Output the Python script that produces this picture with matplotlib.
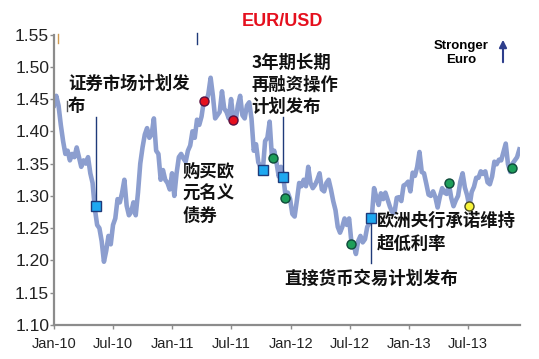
import matplotlib
matplotlib.use("Agg")
import matplotlib.pyplot as plt
import matplotlib.dates as mdates
import pandas as pd

plt.rcParams['font.family'] = ['Liberation Sans', 'DejaVu Sans']
CJK = ['Noto Sans CJK SC', 'DejaVu Sans']

# Weekly EUR/USD (Fridays)
eur_2010 = [1.440, 1.455, 1.440, 1.410, 1.385, 1.365, 1.370, 1.355, 1.365, 1.360, 1.375, 1.360, 1.345,
            1.355, 1.350, 1.360, 1.335, 1.320, 1.280, 1.255, 1.250, 1.230, 1.198, 1.215, 1.238, 1.225,
            1.255, 1.265, 1.295, 1.290, 1.305, 1.325, 1.285, 1.270, 1.275, 1.290, 1.270, 1.305, 1.350,
            1.375, 1.395, 1.405, 1.390, 1.395, 1.420, 1.370, 1.365, 1.325, 1.340, 1.325, 1.320, 1.310,
            1.335]
eur_2011 = [1.300, 1.335, 1.360, 1.365, 1.358, 1.353, 1.370, 1.378, 1.400, 1.390, 1.418, 1.410,
            1.423, 1.447, 1.445, 1.458, 1.483, 1.455, 1.420, 1.425, 1.430, 1.462, 1.435, 1.430, 1.420,
            1.450, 1.420, 1.415, 1.440, 1.455, 1.425, 1.420, 1.440, 1.445, 1.420, 1.370, 1.380, 1.352,
            1.345, 1.340, 1.385, 1.390, 1.415, 1.360, 1.370, 1.352, 1.330, 1.345, 1.330, 1.300, 1.305,
            1.295]
eur_2012 = [1.272, 1.268, 1.293, 1.320, 1.315, 1.325, 1.315, 1.345, 1.320, 1.312, 1.317, 1.325,
            1.335, 1.310, 1.307, 1.320, 1.325, 1.310, 1.292, 1.278, 1.252, 1.243, 1.252, 1.265, 1.255,
            1.265, 1.229, 1.225, 1.210, 1.230, 1.238, 1.228, 1.233, 1.252, 1.258, 1.268, 1.312, 1.298,
            1.286, 1.304, 1.295, 1.305, 1.294, 1.283, 1.275, 1.274, 1.297, 1.298, 1.292, 1.316, 1.318,
            1.322]
eur_2013 = [1.307, 1.336, 1.331, 1.345, 1.368, 1.337, 1.335, 1.319, 1.302, 1.300, 1.307, 1.298,
            1.282, 1.299, 1.312, 1.305, 1.303, 1.318, 1.297, 1.284, 1.293, 1.300, 1.322, 1.335, 1.313,
            1.301, 1.283, 1.306, 1.314, 1.328, 1.328, 1.338, 1.334, 1.338, 1.321, 1.318, 1.330, 1.353,
            1.349, 1.356, 1.355, 1.368, 1.381, 1.349, 1.337, 1.350, 1.355, 1.360, 1.372]

dates = pd.date_range('2010-01-01', '2013-12-06', freq='W-FRI')
eurusd = eur_2010 + eur_2011 + eur_2012 + eur_2013

# ECB events
hike_dates = ['2011-04-08', '2011-07-07']
hike_vals = [1.447, 1.417]
cut_dates = ['2011-11-06', '2011-12-14', '2012-07-04', '2013-05-02', '2013-11-12']
cut_vals = [1.358, 1.297, 1.226, 1.320, 1.343]
policy_dates = ['2010-05-10', '2011-10-06', '2011-12-08', '2012-09-06']
policy_vals = [1.285, 1.340, 1.330, 1.265]
guidance_dates = ['2013-07-04']
guidance_vals = [1.285]

y_ticks = [1.10, 1.15, 1.20, 1.25, 1.30, 1.35, 1.40, 1.45, 1.50, 1.55]

fig = plt.figure(figsize=(5.39, 3.59), dpi=100)
ax = fig.add_axes([54 / 539, 1 - 325 / 359, 466 / 539, 290.5 / 359])

ax.plot(dates, eurusd, color='#8C9ECF', linewidth=3.3, solid_joinstyle='round', zorder=2)

# connector lines for the announcements
navy = '#1F3A7A'
ax.plot(pd.to_datetime(['2010-05-10'] * 2), [1.285, 1.422], color=navy, lw=1, zorder=3)
ax.plot(pd.to_datetime(['2011-12-08'] * 2), [1.330, 1.422], color=navy, lw=1, zorder=3)
ax.plot(pd.to_datetime(['2012-09-06'] * 2), [1.265, 1.196], color=navy, lw=1, zorder=3)

ax.plot(pd.to_datetime(hike_dates), hike_vals, 'o', ms=6.5, mfc='#E5101E', mec='#5A1040', mew=1, zorder=4)
ax.plot(pd.to_datetime(cut_dates), cut_vals, 'o', ms=6.5, mfc='#1E9E5A', mec='#0E4A3A', mew=1, zorder=4)
ax.plot(pd.to_datetime(policy_dates), policy_vals, 's', ms=6.5, mfc='#1EA8F0', mec=navy, mew=1, zorder=4)
ax.plot(pd.to_datetime(guidance_dates), guidance_vals, 'o', ms=6.5, mfc='#F8F53A', mec='#4A4A20', mew=1, zorder=4)

# stray marks from the original chart
ax.plot(pd.to_datetime(['2010-01-13'] * 2), [1.551, 1.537], color='#D09A50', lw=1, clip_on=False)
ax.plot(pd.to_datetime(['2011-03-18'] * 2), [1.552, 1.535], color=navy, lw=1, clip_on=False)
ax.plot(pd.to_datetime(['2010-02-10'] * 2), [1.447, 1.431], color='#555555', lw=1)

# annotation texts
txt = dict(family=CJK, fontsize=12.5, fontweight='bold', color='#111111', ha='left', va='center', linespacing=1.3)
ax.text(pd.Timestamp('2010-02-13'), 1.4563, '证券市场计划发\n布', **txt)
ax.text(pd.Timestamp('2011-09-02'), 1.4718, '3年期长期\n再融资操作\n计划发布', **txt)
ax.text(pd.Timestamp('2011-02-02'), 1.3029, '购买欧\n元名义\n债券', **txt)
ax.text(pd.Timestamp('2012-09-23'), 1.2433, '欧洲央行承诺维持\n超低利率', **txt)
ax.text(pd.Timestamp('2011-12-13'), 1.1713, '直接货币交易计划发布', **txt)

# axes styling
ax.set_xlim(pd.Timestamp('2010-01-01'), pd.Timestamp('2013-12-08'))
ax.set_ylim(1.10, 1.55)
ax.set_yticks(y_ticks)
ax.yaxis.set_major_formatter(plt.FormatStrFormatter('%.2f'))
ax.xaxis.set_major_locator(mdates.MonthLocator(bymonth=[1, 7]))
ax.xaxis.set_major_formatter(mdates.DateFormatter('%b-%y'))
for side in ['top', 'right']:
    ax.spines[side].set_visible(False)
for side in ['left', 'bottom']:
    ax.spines[side].set_color('#8C8C8C')
    ax.spines[side].set_linewidth(1.6)
ax.tick_params(axis='y', length=3, width=1, color='#8C8C8C', pad=0.5, labelsize=12.5, labelcolor='#222222')
ax.tick_params(axis='x', length=3, width=1, color='#8C8C8C', pad=5.5, labelsize=10.5, labelcolor='#222222')

# title and direction hint
fig.text(282 / 539, 1 - 22 / 359, 'EUR/USD', color='#E5101E', fontsize=13, fontweight='bold', ha='center', va='center')
fig.text(461 / 539, 1 - 53 / 359, 'Stronger\nEuro', fontsize=9.5, fontweight='bold', ha='center', va='center', linespacing=1.15)
ax.annotate('', xy=(503 / 539, 1 - 37 / 359), xytext=(503 / 539, 1 - 65 / 359), xycoords='figure fraction',
            arrowprops=dict(arrowstyle='-|>', color='#2E3E8C', lw=1.5, mutation_scale=11))

fig.savefig('out.png', dpi=100)
plt.close(fig)
